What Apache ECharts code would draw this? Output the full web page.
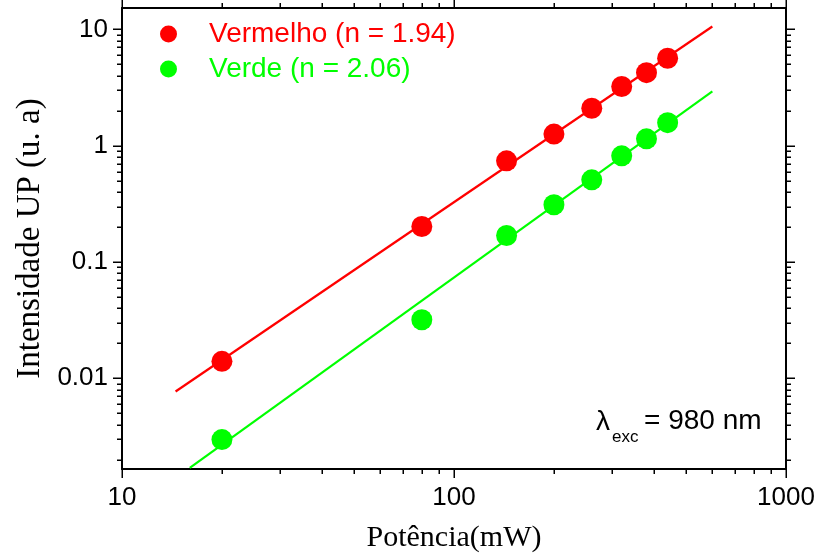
<!DOCTYPE html>
<html>
<head>
<meta charset="utf-8">
<script src="https://cdn.jsdelivr.net/npm/echarts@6/dist/echarts.min.js"></script>
<style>
  html, body { margin: 0; padding: 0; background: #fff; }
  #chart { width: 816px; height: 556px; }
</style>
</head>
<body>
<div id="chart"></div>
<script>
// potencia (mW)
const potencia = [20, 80, 144, 200, 260, 320, 380, 440];
// intensidade UP (u. a)
const vermelho = [0.0140, 0.202, 0.742, 1.26, 2.10, 3.23, 4.25, 5.66];
const verde = [0.00297, 0.0319, 0.169, 0.311, 0.509, 0.819, 1.146, 1.58];
// ajustes lineares (pontos extremos)
const fitVermelho = [[14.5, 0.0077], [600, 10.6]];
const fitVerde = [[16, 0.0017], [600, 2.93]];

const seriesNames = ["Vermelho (n = 1.94)", "Verde (n = 2.06)"];
const xMajorTicks = [10, 100, 1000];
const xTickLabels = ["10", "100", "1000"];
const xMinorTicks = [20, 30, 40, 50, 60, 70, 80, 90, 200, 300, 400, 500, 600, 700, 800, 900];
const yMajorTicks = [0.01, 0.1, 1, 10];
const yTickLabels = ["0.01", "0.1", "1", "10"];
const yMinorTicks = [0.002, 0.003, 0.004, 0.005, 0.006, 0.007, 0.008, 0.009,
  0.02, 0.03, 0.04, 0.05, 0.06, 0.07, 0.08, 0.09,
  0.2, 0.3, 0.4, 0.5, 0.6, 0.7, 0.8, 0.9,
  2, 3, 4, 5, 6, 7, 8, 9];

const RED = "#ff0000";
const GREEN = "#00ff00";
const sans = "Liberation Sans, Arial, sans-serif";
const serif = "Liberation Serif, Times New Roman, serif";

function pickLabel(ticks, labels, v) {
  for (let i = 0; i < ticks.length; i++) {
    if (Math.abs(Math.log10(v) - Math.log10(ticks[i])) < 1e-6) return labels[i];
  }
  return "";
}

function tickLine(x1, y1, x2, y2) {
  return {
    type: "line",
    shape: { x1, y1, x2, y2 },
    style: { stroke: "#000", lineWidth: 1.5 },
  };
}

// ticks para fora nos quatro lados
function xTicksRender(len) {
  return function (params, api) {
    const cs = params.coordSys;
    const p = api.coord([api.value(0), 1]);
    const x = Math.round(p[0]) + 0.25;
    return {
      type: "group",
      children: [
        tickLine(x, cs.y + cs.height, x, cs.y + cs.height + len),
        tickLine(x, cs.y, x, cs.y - len),
      ],
    };
  };
}

function yTicksRender(len) {
  return function (params, api) {
    const cs = params.coordSys;
    const p = api.coord([100, api.value(1)]);
    const y = Math.round(p[1]) + 0.25;
    return {
      type: "group",
      children: [
        tickLine(cs.x, y, cs.x - len, y),
        tickLine(cs.x + cs.width, y, cs.x + cs.width + len, y),
      ],
    };
  };
}

const myChart = echarts.init(document.getElementById("chart"));

const frameAxis = {
  axisLine: { show: true, lineStyle: { color: "#000", width: 2 } },
  axisTick: { show: false },
  splitLine: { show: false },
};

const option = {
  animation: false,
  backgroundColor: "#fff",
  grid: { left: 122, right: 30, top: 8, bottom: 87, outerBoundsMode: "none" },
  legend: {
    orient: "vertical",
    left: 155,
    top: 15,
    icon: "circle",
    itemWidth: 17,
    itemHeight: 17,
    itemGap: 7,
    selectedMode: false,
    textStyle: {
      fontFamily: sans,
      fontSize: 28,
      lineHeight: 28,
      padding: [0, 0, 0, 27],
    },
    data: [
      { name: seriesNames[0], textStyle: { color: RED } },
      { name: seriesNames[1], textStyle: { color: GREEN } },
    ],
  },
  xAxis: [
    {
      ...frameAxis,
      type: "log",
      logBase: 10,
      min: 10,
      max: 1000,
      position: "bottom",
      name: "Potência(mW)",
      nameLocation: "middle",
      nameGap: 54,
      nameTextStyle: { fontFamily: serif, fontSize: 30, color: "#000" },
      axisLabel: {
        margin: 16,
        fontFamily: sans,
        fontSize: 26,
        color: "#000",
        formatter: (v) => pickLabel(xMajorTicks, xTickLabels, v),
      },
    },
    {
      ...frameAxis,
      type: "log",
      logBase: 10,
      min: 10,
      max: 1000,
      position: "top",
      axisLabel: { show: false },
    },
  ],
  yAxis: [
    {
      ...frameAxis,
      type: "log",
      logBase: 10,
      min: 0.00166,
      max: 15.3,
      position: "left",
      name: "Intensidade UP (u. a)",
      nameLocation: "middle",
      nameGap: 67,
      nameTextStyle: { fontFamily: serif, fontSize: 33, color: "#000" },
      axisLabel: {
        margin: 14,
        fontFamily: sans,
        fontSize: 26,
        color: "#000",
        showMinLabel: false,
        showMaxLabel: false,
        formatter: (v) => pickLabel(yMajorTicks, yTickLabels, v),
      },
    },
    {
      ...frameAxis,
      type: "log",
      logBase: 10,
      min: 0.00166,
      max: 15.3,
      position: "right",
      axisLabel: { show: false },
    },
  ],
  series: [
    {
      name: "fitVermelho",
      type: "line",
      data: fitVermelho,
      showSymbol: false,
      lineStyle: { color: RED, width: 2.2 },
      z: 2,
      silent: true,
    },
    {
      name: "fitVerde",
      type: "line",
      data: fitVerde,
      showSymbol: false,
      lineStyle: { color: GREEN, width: 2.2 },
      z: 2,
      silent: true,
    },
    {
      name: seriesNames[0],
      type: "scatter",
      symbol: "circle",
      symbolSize: 21,
      itemStyle: { color: RED, opacity: 1 },
      data: potencia.map((x, i) => [x, vermelho[i]]),
      z: 3,
    },
    {
      name: seriesNames[1],
      type: "scatter",
      symbol: "circle",
      symbolSize: 21,
      itemStyle: { color: GREEN, opacity: 1 },
      data: potencia.map((x, i) => [x, verde[i]]),
      z: 3,
    },
    {
      type: "custom",
      renderItem: xTicksRender(9),
      data: xMajorTicks.map((v) => [v, 1]),
      clip: false,
      silent: true,
      z: 5,
    },
    {
      type: "custom",
      renderItem: xTicksRender(5),
      data: xMinorTicks.map((v) => [v, 1]),
      clip: false,
      silent: true,
      z: 5,
    },
    {
      type: "custom",
      renderItem: yTicksRender(9),
      data: yMajorTicks.map((v) => [100, v]),
      clip: false,
      silent: true,
      z: 5,
    },
    {
      type: "custom",
      renderItem: yTicksRender(5),
      data: yMinorTicks.map((v) => [100, v]),
      clip: false,
      silent: true,
      z: 5,
    },
  ],
  graphic: [
    {
      type: "text",
      left: 596,
      top: 408,
      style: { text: "λ", font: "28px " + sans, fill: "#000" },
    },
    {
      type: "text",
      left: 612,
      top: 429,
      style: { text: "exc", font: "17px " + sans, fill: "#000" },
    },
    {
      type: "text",
      left: 644,
      top: 407,
      style: { text: "= 980 nm", font: "28px " + sans, fill: "#000" },
    },
  ],
};

myChart.setOption(option);
</script>
</body>
</html>
